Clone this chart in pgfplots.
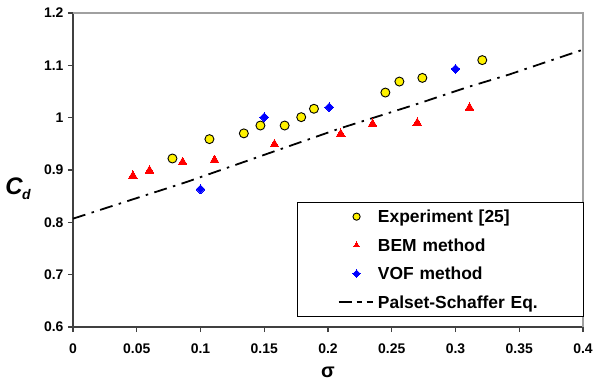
\documentclass[border=0pt]{standalone}
\usepackage{fontspec}
\setmainfont{Liberation Sans}
\usepackage{pgfplots}
\pgfplotsset{compat=1.18}
\definecolor{axgray}{RGB}{64,64,64}
\definecolor{brdgray}{RGB}{160,160,160}
\pgfplotsset{
  markleg/.style={legend image code/.code={\path (0bp,0bp) (36bp,0bp); \draw[mark repeat=2,mark phase=2,##1,mark size=#1] plot coordinates {(0bp,0bp)(18bp,0bp)(36bp,0bp)};}},
  lineleg/.style={legend image code/.code={\draw[black, line width=1.8bp, dash pattern=on 13bp off 5bp on 5bp off 5bp on 6bp off 20bp] (0bp,0bp) -- (36bp,0bp);}},
}
\begin{document}
\begin{tikzpicture}
\path[use as bounding box] (-73bp,-56bp) rectangle (521bp,327bp);
\begin{axis}[
  scale only axis,
  width=510bp, height=314bp,
  xmin=0, xmax=0.4, ymin=0.6, ymax=1.2,
  axis x line*=bottom, axis y line*=left,
  axis line style={draw=axgray, line width=1.6bp},
  every tick/.style={draw=axgray, line width=1.2bp},
  tick align=outside, major tick length=5bp,
  xtick={0,0.05,0.1,0.15,0.2,0.25,0.3,0.35,0.4},
  xticklabels={\textbf{0},\textbf{0.05},\textbf{0.1},\textbf{0.15},\textbf{0.2},\textbf{0.25},\textbf{0.3},\textbf{0.35},\textbf{0.4}},
  ytick={0.6,0.7,0.8,0.9,1,1.1,1.2},
  yticklabels={\textbf{0.6},\textbf{0.7},\textbf{0.8},\textbf{0.9},\textbf{1},\textbf{1.1},\textbf{1.2}},
  tick label style={font=\fontsize{14}{16}\selectfont\bfseries},
  xticklabel style={yshift=-8bp},
  yticklabel style={xshift=-1bp},
  xlabel={\textbf{σ}},
  xlabel style={font=\fontsize{20}{23}\selectfont\bfseries, at={(axis description cs:0.5,-0.145)}, anchor=center},
  ylabel={\bfseries\itshape C\kern-0.5bp\raisebox{-0.45ex}{\fontsize{14}{16}\selectfont d}},
  ylabel style={font=\fontsize{24}{28}\selectfont, rotate=-90, at={(axis description cs:-0.108,0.44)}, anchor=center},
  legend cell align=left,
  legend style={at={(axis description cs:1.002,0.032)}, anchor=south east,
    draw=black, line width=1.1bp, fill=white,
    font=\fontsize{17.5}{20}\selectfont\bfseries,
    inner xsep=40bp, inner ysep=6.25bp, row sep=12.5bp,
    nodes={inner xsep=2.5bp, inner ysep=0bp, text height=14bp, text depth=2bp, text width=163bp, align=left},
    cells={anchor=west}},
  clip=false,
]
\addplot[only marks, mark=*, mark size=4.5bp, mark options={fill=yellow, draw=black, line width=0.9bp}, markleg=3.6bp]
  coordinates {(0.078,0.922) (0.107,0.959) (0.134,0.970) (0.147,0.985) (0.166,0.985) (0.179,1.001) (0.189,1.017) (0.245,1.048) (0.256,1.069) (0.274,1.076) (0.321,1.110)};
\addlegendentry{Experiment [25]}
\addplot[only marks, mark=triangle*, mark size=5bp, mark options={fill=red, draw=red, line width=0bp}, markleg=3.3bp]
  coordinates {(0.047,0.889) (0.060,0.899) (0.086,0.915) (0.111,0.919) (0.158,0.949) (0.210,0.969) (0.235,0.988) (0.270,0.990) (0.311,1.019)};
\addlegendentry{BEM method}
\addplot[only marks, mark=square*, mark size=3.1bp, mark options={fill=blue, draw=blue, line width=0bp, rotate=45}, markleg=2.6bp]
  coordinates {(0.100,0.863) (0.150,1.001) (0.201,1.020) (0.300,1.093)};
\addlegendentry{VOF method}
\addplot[black, line width=1.8bp, dash pattern=on 13bp off 6.5bp on 2.5bp off 6.5bp, no marks, lineleg]
  coordinates {(0,0.807) (0.047,0.844) (0.089,0.877) (0.170,0.946) (0.210,0.980) (0.271,1.027) (0.309,1.058) (0.3415,1.082) (0.4,1.130)};
\addlegendentry{Palset-Schaffer Eq.}
\draw[brdgray, line width=1.3bp] (rel axis cs:0,1) -- (rel axis cs:1,1) -- (rel axis cs:1,0);
\end{axis}
\end{tikzpicture}
\end{document}
